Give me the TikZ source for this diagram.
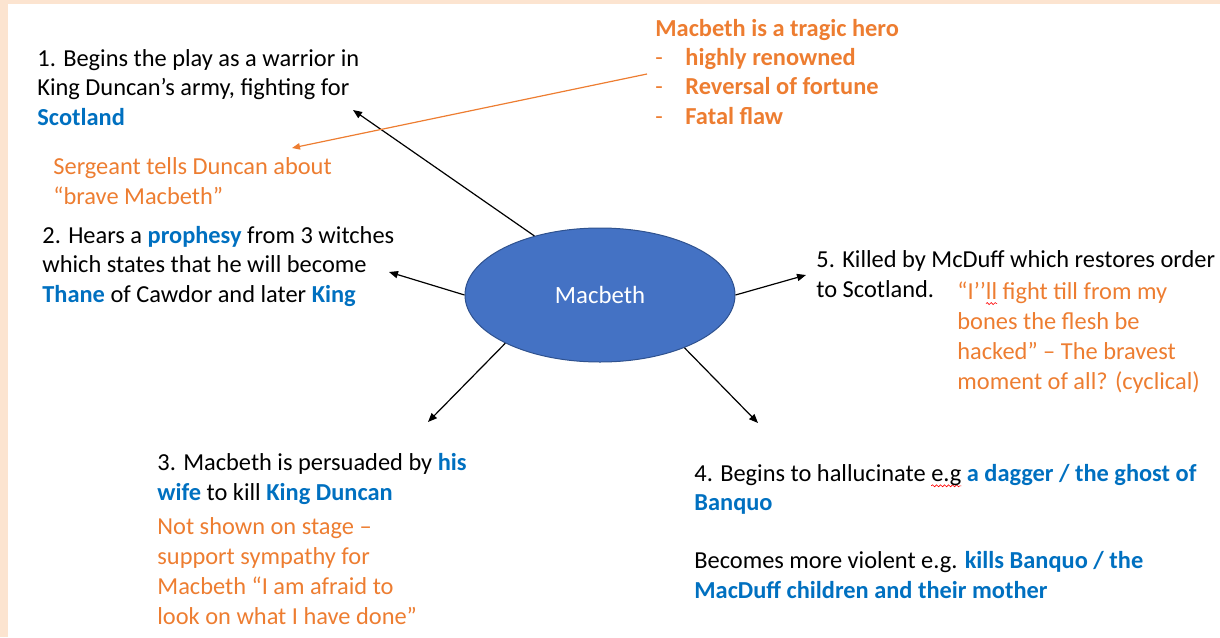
\documentclass[tikz,border=0pt]{standalone}
\usepackage{fontspec}
\setmainfont{Carlito}
\usetikzlibrary{arrows.meta,shapes.geometric,decorations.pathmorphing}

\definecolor{mblue}{HTML}{0070C0}
\definecolor{morange}{HTML}{ED7D31}
\definecolor{mfill}{HTML}{4472C4}
\definecolor{medge}{HTML}{2F528F}
\definecolor{mpeach}{HTML}{FCE4D0}

\newlength\wavelen
\newcommand\spellwave[1]{\settowidth\wavelen{#1}\rlap{\tikz[overlay,baseline=0pt]\draw[red,line width=0.3pt,decorate,decoration={snake,amplitude=0.5pt,segment length=2pt}] (0pt,-2.3pt) -- (\wavelen,-2.3pt);}#1}
\newcommand\hl[1]{\textcolor{mblue}{\bfseries #1}}

\begin{document}
\begin{tikzpicture}[x=0.5pt, y=-0.5pt,
  txt/.style={anchor=base west, align=left, inner sep=0pt, font=\fontsize{12.2}{14.6}\selectfont},
  note/.style={txt, text=morange},
  link/.style={-{Triangle[length=4.5pt,width=3.6pt]}, line width=0.6pt},
  notelink/.style={-{Triangle[length=4pt,width=3.2pt]}, draw=morange, line width=0.6pt}]
  \useasboundingbox (0,0) rectangle (1220,637);
  \fill[mpeach] (0,0) rectangle (8,637);
  \fill[mpeach] (0,0) rectangle (1220,4);

  \node[ellipse, fill=mfill, draw=medge, line width=0.5pt, minimum width=135pt, minimum height=67pt,
        inner sep=0pt, text=white, font=\fontsize{12.4}{14.6}\selectfont] (mac) at (600,295) {Macbeth};

  \node[txt] (b1) at (37,125) {1. Begins the play as a warrior in\\King Duncan’s army, fighting for\\\hl{Scotland}};
  \node[note] (sgt) at (53,204) {Sergeant tells Duncan about\\“brave Macbeth”};
  \node[txt] (b2) at (42,302) {2. Hears a \hl{prophesy} from 3 witches\\which states that he will become\\\hl{Thane} of Cawdor and later \hl{King}};
  \node[note, font=\fontsize{12.2}{14.6}\selectfont\bfseries] (hero) at (655,124)
    {Macbeth is a tragic hero\\\makebox[15pt][l]{\mdseries -}highly renowned\\\makebox[15pt][l]{\mdseries -}Reversal of fortune\\\makebox[15pt][l]{\mdseries -}Fatal flaw};
  \node[txt] (b5) at (816,297) {5. Killed by McDuff which restores order\\to Scotland.};
  \node[note, font=\fontsize{12.2}{15}\selectfont] (b5q) at (957,389) {“I’’\spellwave{ll} fight till from my\\bones the flesh be\\hacked” – The bravest\\moment of all? (cyclical)};
  \node[txt, font=\fontsize{12.2}{15}\selectfont] (b3) at (157,500) {3. Macbeth is persuaded by \hl{his}\\\hl{wife} to kill \hl{King Duncan}};
  \node[note, font=\fontsize{12.2}{15}\selectfont] (b3q) at (157,624) {Not shown on stage –\\support sympathy for\\Macbeth “I am afraid to\\look on what I have done”};
  \node[txt] (b4) at (694,598) {4. Begins to hallucinate \spellwave{e.g} \hl{a dagger / the ghost of}\\\hl{Banquo}\\[14.6pt]Becomes more violent e.g. \hl{kills Banquo / the}\\\hl{MacDuff children and their mother}};

  \coordinate (t1) at (353,110);
  \coordinate (t2) at (389,272);
  \coordinate (t3) at (428,422);
  \coordinate (t4) at (758,423);
  \coordinate (t5) at (806,275);
  \coordinate (hs) at (647,74);
  \coordinate (ht) at (292,148);

  \draw[link] (mac.138) -- (t1);
  \draw[link] (mac.west) -- (t2);
  \draw[link] (mac.207) -- (t3);
  \draw[link] (mac.328) -- (t4);
  \draw[link] (mac.east) -- (t5);
  \draw[notelink] (hs) -- (ht);
\end{tikzpicture}
\end{document}
